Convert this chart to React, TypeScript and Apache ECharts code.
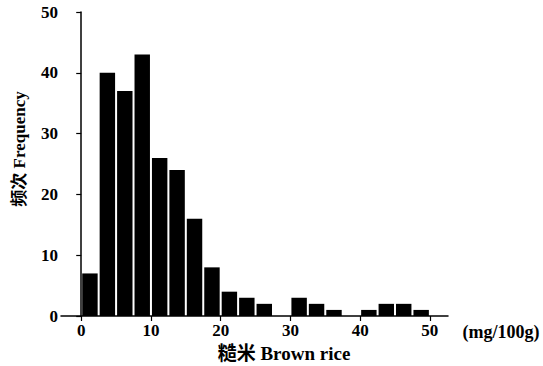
import React, { useEffect, useRef } from "react";
import * as echarts from "echarts";

const binStarts = [0, 2.5, 5, 7.5, 10, 12.5, 15, 17.5, 20, 22.5, 25, 27.5, 30, 32.5, 35, 37.5, 40, 42.5, 45, 47.5];
const frequencies = [7, 40, 37, 43, 26, 24, 16, 8, 4, 3, 2, 0, 3, 2, 1, 0, 1, 2, 2, 1];
const binWidth = 2.5;
const xTicks = [0, 10, 20, 30, 40, 50];
const yTitle = "频次 Frequency";
const xTitle = "糙米 Brown rice";
const unitLabel = "(mg/100g)";

const FONT = "'Liberation Serif', 'Noto Sans CJK SC', serif";

export default function App() {
  const ref = useRef<HTMLDivElement>(null);
  useEffect(() => {
    if (!ref.current) return;
    document.body.style.margin = "0";
    const chart = echarts.init(ref.current, undefined, { renderer: "svg" });
    const data = binStarts.map((s, i) => [s, s + binWidth, frequencies[i]]);
    chart.setOption({
      animation: false,
      backgroundColor: "#fff",
      grid: { left: 61, right: 95, top: 12, bottom: 50, containLabel: false },
      xAxis: {
        type: "value",
        min: -2.9,
        max: 52.6,
        splitLine: { show: false },
        axisLine: { show: true, lineStyle: { color: "#000", width: 1.5 } },
        axisTick: { show: true, customValues: xTicks, length: 5, lineStyle: { color: "#000", width: 1.2 } },
        axisLabel: {
          customValues: xTicks,
          color: "#000",
          fontFamily: FONT,
          fontWeight: "bold",
          fontSize: 17,
          margin: 6,
        },
      },
      yAxis: {
        type: "value",
        min: 0,
        max: 50,
        interval: 10,
        splitLine: { show: false },
        axisLine: { show: true, lineStyle: { color: "#000", width: 1.5 } },
        axisTick: { show: true, length: 5, lineStyle: { color: "#000", width: 1.2 } },
        axisLabel: {
          color: "#000",
          fontFamily: FONT,
          fontWeight: "bold",
          fontSize: 17,
          margin: 3,
        },
      },
      series: [
        {
          type: "custom",
          data,
          encode: { x: [0, 1], y: 2 },
          renderItem: (params: any, api: any) => {
            const x0 = api.value(0);
            const x1 = api.value(1);
            const v = api.value(2);
            if (!v) return null;
            const p0 = api.coord([x0, v]);
            const p1 = api.coord([x1, 0]);
            return {
              type: "rect",
              shape: { x: p0[0] + 1, y: p0[1], width: p1[0] - p0[0] - 2, height: p1[1] - p0[1] },
              style: { fill: "#000" },
            };
          },
        },
      ],
      graphic: [
        {
          type: "text",
          x: 19,
          y: 149,
          rotation: Math.PI / 2,
          style: {
            text: yTitle,
            fontFamily: FONT,
            fontWeight: "bold",
            fontSize: 17,
            fill: "#000",
            align: "center",
            verticalAlign: "middle",
          },
        },
        {
          type: "text",
          x: 284,
          y: 353,
          style: {
            text: xTitle,
            fontFamily: FONT,
            fontWeight: "bold",
            fontSize: 19,
            fill: "#000",
            align: "center",
            verticalAlign: "middle",
          },
        },
        {
          type: "text",
          x: 501,
          y: 332,
          style: {
            text: unitLabel,
            fontFamily: FONT,
            fontWeight: "bold",
            fontSize: 18,
            fill: "#000",
            align: "center",
            verticalAlign: "middle",
          },
        },
      ],
    });
    return () => chart.dispose();
  }, []);
  return <div ref={ref} style={{ width: 543, height: 366 }} />;
}
